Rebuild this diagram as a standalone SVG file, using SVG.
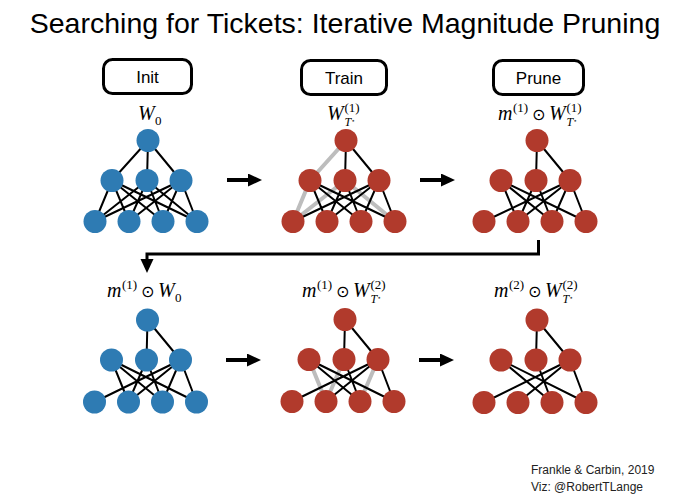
<svg xmlns="http://www.w3.org/2000/svg" width="689" height="501" viewBox="0 0 689 501">
<defs>
<style>
.bg{fill:#ffffff}
.title{font-family:"Liberation Sans",Arial,sans-serif;font-size:28.5px;fill:#000}
.box{fill:#fff;stroke:#000;stroke-width:3}
.btxt{font-family:"Liberation Sans",Arial,sans-serif;font-size:17px;fill:#000;text-anchor:middle}
.mi{font-family:"Liberation Serif","DejaVu Serif",serif;font-style:italic;font-size:20px;fill:#000}
.sc{font-family:"Liberation Serif","DejaVu Serif",serif;font-size:13px;fill:#000}
.sci{font-family:"Liberation Serif","DejaVu Serif",serif;font-style:italic;font-size:12px;fill:#000}
.st{font-family:"DejaVu Sans",sans-serif;font-size:7px;fill:#000}
.od{font-family:"DejaVu Sans",sans-serif;font-size:16px;fill:#000}
.cr{font-family:"Liberation Sans",Arial,sans-serif;font-size:12px;fill:#222}
.e{fill:none;stroke:#000;stroke-width:2}
.g{fill:none;stroke:#bdbdbd;stroke-width:4}
.b circle{fill:#2e7bb3}
.r circle{fill:#b13a2c}
.ar{fill:none;stroke:#000;stroke-width:4}
.al{fill:none;stroke:#000;stroke-width:3}
</style>
<marker id="ah" markerUnits="userSpaceOnUse" markerWidth="15" markerHeight="14" refX="1" refY="6.5" orient="auto">
<path d="M0,0 L14,6.5 L0,13 z" fill="#000"/>
</marker>
</defs>
<rect class="bg" x="0" y="0" width="689" height="501"/>
<text class="title" x="345" y="33" text-anchor="middle">Searching for Tickets: Iterative Magnitude Pruning</text>

<g id="box-init"><rect class="box" x="103.5" y="59.5" width="88" height="34" rx="9"/><text class="btxt" x="147.5" y="83">Init</text></g>
<g id="box-train"><rect class="box" x="301.5" y="60.5" width="85" height="34" rx="9"/><text class="btxt" x="344" y="84">Train</text></g>
<g id="box-prune"><rect class="box" x="493.5" y="60.5" width="90" height="34" rx="9"/><text class="btxt" x="538.5" y="84">Prune</text></g>

<g id="label-1">
<text class="mi" x="138" y="120">W</text><text class="sc" x="155" y="125">0</text>
</g>
<g id="label-2">
<text class="mi" x="327" y="120">W</text><text class="sc" x="344.5" y="112">(1)</text><text class="sci" x="344.5" y="126">T</text><text class="st" x="351" y="123">⋆</text>
</g>
<g id="label-3">
<text class="mi" x="498" y="120">m</text><text class="sc" x="513" y="112">(1)</text><text class="od" x="532" y="120">⊙</text>
<text class="mi" x="549" y="120">W</text><text class="sc" x="566.5" y="112">(1)</text><text class="sci" x="566.5" y="126">T</text><text class="st" x="573" y="123">⋆</text>
</g>
<g id="label-4">
<text class="mi" x="107" y="297">m</text><text class="sc" x="122" y="289">(1)</text><text class="od" x="141" y="297">⊙</text>
<text class="mi" x="158" y="297">W</text><text class="sc" x="175" y="302">0</text>
</g>
<g id="label-5">
<text class="mi" x="302" y="297">m</text><text class="sc" x="317" y="289">(1)</text><text class="od" x="336" y="297">⊙</text>
<text class="mi" x="353" y="297">W</text><text class="sc" x="370.5" y="289">(2)</text><text class="sci" x="370.5" y="303">T</text><text class="st" x="377" y="300">⋆</text>
</g>
<g id="label-6">
<text class="mi" x="494" y="297">m</text><text class="sc" x="509" y="289">(2)</text><text class="od" x="528" y="297">⊙</text>
<text class="mi" x="545" y="297">W</text><text class="sc" x="562.5" y="289">(2)</text><text class="sci" x="562.5" y="303">T</text><text class="st" x="569" y="300">⋆</text>
</g>

<g id="connectors">
<path class="e" d="M148 140.5L112 180.5M148 140.5L147 180.5M148 140.5L181 180.5
M112 180.5L95 221.5M112 180.5L129 221.5M112 180.5L163 221.5M112 180.5L197 221.5
M147 180.5L95 221.5M147 180.5L129 221.5M147 180.5L163 221.5M147 180.5L197 221.5
M181 180.5L95 221.5M181 180.5L129 221.5M181 180.5L163 221.5M181 180.5L197 221.5"/>
<path class="g" d="M346 140.5L310 180.5M310 180.5L293 221.5M345 180.5L293 221.5M345 180.5L395 221.5"/>
<path class="e" d="M346 140.5L345 180.5M346 140.5L379 180.5
M310 180.5L327 221.5M310 180.5L361 221.5M310 180.5L395 221.5
M345 180.5L327 221.5M345 180.5L361 221.5
M379 180.5L293 221.5M379 180.5L327 221.5M379 180.5L361 221.5M379 180.5L395 221.5"/>
<path class="e" d="M537 140.5L536 180.5M537 140.5L570 180.5
M501 180.5L518 221.5M501 180.5L552 221.5M501 180.5L586 221.5
M536 180.5L518 221.5M536 180.5L552 221.5
M570 180.5L484 221.5M570 180.5L518 221.5M570 180.5L552 221.5M570 180.5L586 221.5"/>
<path class="e" d="M147.5 320L146.5 360M147.5 320L180.5 360
M111.5 360L128.5 402M111.5 360L162.5 402M111.5 360L196.5 402
M146.5 360L128.5 402M146.5 360L162.5 402
M180.5 360L94.5 402M180.5 360L128.5 402M180.5 360L162.5 402M180.5 360L196.5 402"/>
<path class="g" d="M309 359.5L326 401.5M344 359.5L326 401.5M378 359.5L360 401.5"/>
<path class="e" d="M345 319.5L344 359.5M345 319.5L378 359.5
M309 359.5L360 401.5M309 359.5L394 401.5
M344 359.5L360 401.5
M378 359.5L292 401.5M378 359.5L326 401.5M378 359.5L394 401.5"/>
<path class="e" d="M537 320L536 360M537 320L570 360
M501 360L552 402.5M501 360L586 402.5
M536 360L552 402.5
M570 360L484 402.5M570 360L518 402.5M570 360L586 402.5"/>
<line class="ar" x1="227" y1="180" x2="249" y2="180" marker-end="url(#ah)"/>
<line class="ar" x1="420" y1="180" x2="442" y2="180" marker-end="url(#ah)"/>
<line class="ar" x1="226" y1="360" x2="248" y2="360" marker-end="url(#ah)"/>
<line class="ar" x1="419" y1="360" x2="441" y2="360" marker-end="url(#ah)"/>
<path class="al" d="M538.5 240V254H147V260" marker-end="url(#ah)"/>
</g>

<g class="b">
<g id="a-t"><circle cx="148" cy="140.5" r="11.5"/></g>
<g id="a-m1"><circle cx="112" cy="180.5" r="11.5"/></g>
<g id="a-m2"><circle cx="147" cy="180.5" r="11.5"/></g>
<g id="a-m3"><circle cx="181" cy="180.5" r="11.5"/></g>
<g id="a-b1"><circle cx="95" cy="221.5" r="11.5"/></g>
<g id="a-b2"><circle cx="129" cy="221.5" r="11.5"/></g>
<g id="a-b3"><circle cx="163" cy="221.5" r="11.5"/></g>
<g id="a-b4"><circle cx="197" cy="221.5" r="11.5"/></g>
</g>
<g class="r">
<g id="b-t"><circle cx="346" cy="140.5" r="11.5"/></g>
<g id="b-m1"><circle cx="310" cy="180.5" r="11.5"/></g>
<g id="b-m2"><circle cx="345" cy="180.5" r="11.5"/></g>
<g id="b-m3"><circle cx="379" cy="180.5" r="11.5"/></g>
<g id="b-b1"><circle cx="293" cy="221.5" r="11.5"/></g>
<g id="b-b2"><circle cx="327" cy="221.5" r="11.5"/></g>
<g id="b-b3"><circle cx="361" cy="221.5" r="11.5"/></g>
<g id="b-b4"><circle cx="395" cy="221.5" r="11.5"/></g>
</g>
<g class="r">
<g id="c-t"><circle cx="537" cy="140.5" r="11.5"/></g>
<g id="c-m1"><circle cx="501" cy="180.5" r="11.5"/></g>
<g id="c-m2"><circle cx="536" cy="180.5" r="11.5"/></g>
<g id="c-m3"><circle cx="570" cy="180.5" r="11.5"/></g>
<g id="c-b1"><circle cx="484" cy="221.5" r="11.5"/></g>
<g id="c-b2"><circle cx="518" cy="221.5" r="11.5"/></g>
<g id="c-b3"><circle cx="552" cy="221.5" r="11.5"/></g>
<g id="c-b4"><circle cx="586" cy="221.5" r="11.5"/></g>
</g>
<g class="b">
<g id="d-t"><circle cx="147.5" cy="320" r="11.5"/></g>
<g id="d-m1"><circle cx="111.5" cy="360" r="11.5"/></g>
<g id="d-m2"><circle cx="146.5" cy="360" r="11.5"/></g>
<g id="d-m3"><circle cx="180.5" cy="360" r="11.5"/></g>
<g id="d-b1"><circle cx="94.5" cy="402" r="11.5"/></g>
<g id="d-b2"><circle cx="128.5" cy="402" r="11.5"/></g>
<g id="d-b3"><circle cx="162.5" cy="402" r="11.5"/></g>
<g id="d-b4"><circle cx="196.5" cy="402" r="11.5"/></g>
</g>
<g class="r">
<g id="e-t"><circle cx="345" cy="319.5" r="11.5"/></g>
<g id="e-m1"><circle cx="309" cy="359.5" r="11.5"/></g>
<g id="e-m2"><circle cx="344" cy="359.5" r="11.5"/></g>
<g id="e-m3"><circle cx="378" cy="359.5" r="11.5"/></g>
<g id="e-b1"><circle cx="292" cy="401.5" r="11.5"/></g>
<g id="e-b2"><circle cx="326" cy="401.5" r="11.5"/></g>
<g id="e-b3"><circle cx="360" cy="401.5" r="11.5"/></g>
<g id="e-b4"><circle cx="394" cy="401.5" r="11.5"/></g>
</g>
<g class="r">
<g id="f-t"><circle cx="537" cy="320" r="11.5"/></g>
<g id="f-m1"><circle cx="501" cy="360" r="11.5"/></g>
<g id="f-m2"><circle cx="536" cy="360" r="11.5"/></g>
<g id="f-m3"><circle cx="570" cy="360" r="11.5"/></g>
<g id="f-b1"><circle cx="484" cy="402.5" r="11.5"/></g>
<g id="f-b2"><circle cx="518" cy="402.5" r="11.5"/></g>
<g id="f-b3"><circle cx="552" cy="402.5" r="11.5"/></g>
<g id="f-b4"><circle cx="586" cy="402.5" r="11.5"/></g>
</g>

<g id="credits">
<text class="cr" x="531" y="474">Frankle &amp; Carbin, 2019</text>
<text class="cr" x="531" y="491">Viz: @RobertTLange</text>
</g>
</svg>
